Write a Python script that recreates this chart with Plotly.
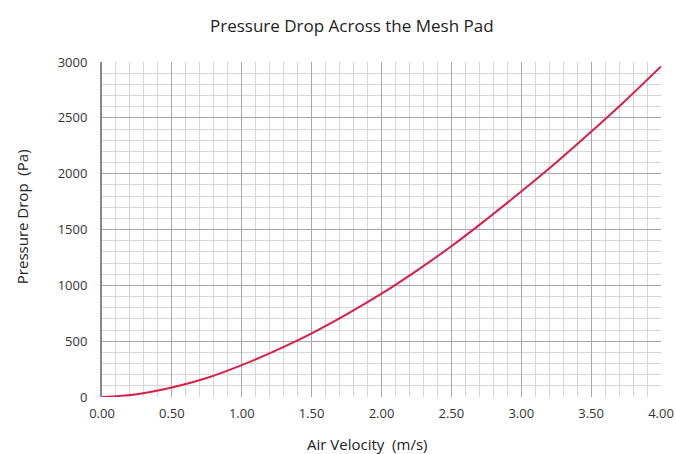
import plotly.graph_objects as go

velocity = [0, 0.25, 0.5, 0.75, 1.0, 1.25, 1.5, 1.75, 2.0, 2.25, 2.5, 2.75, 3.0, 3.25, 3.5, 3.75, 4.0]
pressure = [0, 25, 85, 170, 285, 420, 570, 740, 925, 1130, 1350, 1590, 1840, 2100, 2375, 2660, 2960]

fig = go.Figure()
fig.add_trace(go.Scatter(x=velocity, y=pressure, mode="lines", line=dict(color="#d81f4a", width=2, shape="spline"),
                         showlegend=False))

font = "Open Sans"
fig.update_layout(
    width=676, height=454,
    margin=dict(l=102, r=15, t=62, b=57),
    paper_bgcolor="white", plot_bgcolor="white",
    font=dict(family=font, size=13, color="#333"),
    annotations=[
        dict(text="Pressure Drop Across the Mesh Pad", xref="paper", yref="paper", x=0.447, y=1.110,
             xanchor="center", yanchor="middle", showarrow=False, font=dict(family=font, size=17, color="#222")),
        dict(text="Air Velocity  (m/s)", xref="paper", yref="paper", x=0.474, y=-0.140,
             xanchor="center", yanchor="middle", showarrow=False, font=dict(family=font, size=15, color="#222")),
        dict(text="Pressure Drop  (Pa)", xref="paper", yref="paper", x=-0.143, y=0.537, textangle=-90,
             xanchor="center", yanchor="middle", showarrow=False, font=dict(family=font, size=15, color="#222")),
    ],
)
fig.update_xaxes(
    range=[0, 4], tick0=0, dtick=0.5, tickformat=".2f",
    showgrid=True, gridcolor="#a8a8a8", gridwidth=1,
    minor=dict(tick0=0, dtick=0.1, showgrid=True, gridcolor="#d6d6d6", gridwidth=1),
    zeroline=False, showline=False, ticks="outside", ticklen=4, tickcolor="rgba(0,0,0,0)",
    automargin=False,
    tickfont=dict(size=13, color="#333"),
)
fig.update_yaxes(
    range=[0, 3000], tick0=0, dtick=500,
    showgrid=True, gridcolor="#a8a8a8", gridwidth=1,
    minor=dict(tick0=0, dtick=100, showgrid=True, gridcolor="#d6d6d6", gridwidth=1),
    zeroline=False, showline=True, linecolor="#888", linewidth=2, ticks="outside", ticklen=10,
    tickcolor="rgba(0,0,0,0)", automargin=False,
    tickfont=dict(size=13, color="#333"),
)
fig.write_html("out.html", config={"displayModeBar": False},
               post_script="document.body.style.margin='0px';")
